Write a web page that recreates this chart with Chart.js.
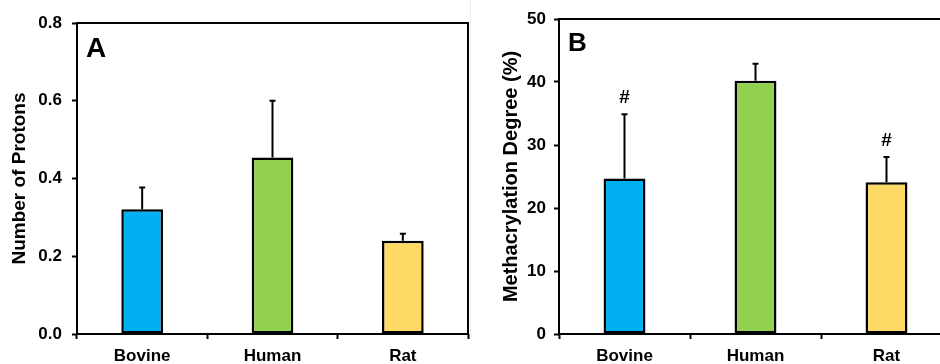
<!DOCTYPE html>
<html>
<head>
<meta charset="utf-8">
<script src="https://cdn.jsdelivr.net/npm/chart.js@4.4.1/dist/chart.umd.min.js"></script>
<style>
html, body { margin:0; padding:0; background:#fff; overflow:hidden; }
#wrap { position:relative; width:940px; height:364px; overflow:hidden; }
#boxA { position:absolute; left:0; top:0; width:470px; height:364px; }
#boxB { position:absolute; left:470px; top:0; width:486px; height:364px; }
#sep { position:absolute; left:470px; top:0; width:1px; height:338px; background:#ececec; }
</style>
</head>
<body>
<div id="wrap">
  <div id="boxA"><canvas id="chartA" width="470" height="364"></canvas></div>
  <div id="sep"></div>
  <div id="boxB"><canvas id="chartB" width="486" height="364"></canvas></div>
</div>
<script>
// categorias comunes a los dos paneles
var especies = ['Bovine', 'Human', 'Rat'];
var coloresBarras = ['#00B0F0', '#92D050', '#FFD966'];

// panel A: numero de protones (media y error superior)
var protones = [0.321, 0.454, 0.240];
var errorProtones = [0.056, 0.146, 0.018];
var ticksA = [0, 0.2, 0.4, 0.6, 0.8];
var etiquetasA = ['0.0', '0.2', '0.4', '0.6', '0.8'];

// panel B: grado de metacrilacion (%)
var metacrilacion = [24.7, 40.2, 24.1];
var errorMetacrilacion = [10.2, 2.7, 4.0];
var marcasB = ['#', '', '#'];
var ticksB = [0, 10, 20, 30, 40, 50];
var etiquetasB = ['0', '10', '20', '30', '40', '50'];

var fuente = '"Liberation Sans", Arial, Helvetica, sans-serif';
Chart.defaults.font.family = fuente;
Chart.defaults.font.weight = 'bold';
Chart.defaults.color = '#000';

// marco negro alrededor del area del grafico
var cajaPlugin = {
  id: 'caja',
  afterDraw: function(chart) {
    var a = chart.chartArea, ctx = chart.ctx;
    ctx.save();
    ctx.lineWidth = 2;
    ctx.strokeStyle = '#000';
    ctx.strokeRect(a.left, a.top, a.right - a.left, a.bottom - a.top);
    ctx.restore();
  }
};

// barras de error, marcas (#) y letra del panel
var erroresPlugin = {
  id: 'errores',
  afterDatasetsDraw: function(chart, args, opts) {
    var ctx = chart.ctx, y = chart.scales.y;
    var meta = chart.getDatasetMeta(0);
    var datos = chart.data.datasets[0].data;
    ctx.save();
    ctx.strokeStyle = '#000';
    ctx.lineWidth = 2;
    meta.data.forEach(function(bar, i) {
      var yBar = y.getPixelForValue(datos[i]);
      var yTop = y.getPixelForValue(datos[i] + opts.errores[i]);
      ctx.beginPath();
      ctx.moveTo(bar.x, yBar);
      ctx.lineTo(bar.x, yTop);
      ctx.moveTo(bar.x - 3, yTop);
      ctx.lineTo(bar.x + 3, yTop);
      ctx.stroke();
      if (opts.marcas && opts.marcas[i]) {
        ctx.fillStyle = '#000';
        ctx.font = 'bold 19px ' + fuente;
        ctx.textAlign = 'center';
        ctx.textBaseline = 'middle';
        ctx.fillText(opts.marcas[i], bar.x, yTop - 16);
      }
    });
    var a = chart.chartArea;
    ctx.fillStyle = '#000';
    ctx.font = 'bold ' + opts.tamLetra + 'px ' + fuente;
    ctx.textAlign = 'left';
    ctx.textBaseline = 'alphabetic';
    ctx.fillText(opts.letra, a.left + 9, a.top + opts.bajaLetra);
    ctx.restore();
  }
};

function crearPanel(id, valores, errores, marcas, ticks, etiquetas, min, max, tituloY, tamTitulo, padTitulo, anchoEje, padTicks, padArriba, padDerecha, letra, tamLetra, bajaLetra) {
  return new Chart(document.getElementById(id), {
    type: 'bar',
    data: {
      labels: especies,
      datasets: [{
        data: valores,
        backgroundColor: coloresBarras,
        borderColor: '#000',
        borderWidth: 2.5,
        borderSkipped: false,
        categoryPercentage: 1,
        barPercentage: 0.32
      }]
    },
    plugins: [cajaPlugin, erroresPlugin],
    options: {
      responsive: false,
      animation: false,
      layout: { padding: { top: padArriba, right: padDerecha, left: 0, bottom: 0 } },
      plugins: {
        legend: { display: false },
        tooltip: { enabled: false },
        errores: { errores: errores, marcas: marcas, letra: letra, tamLetra: tamLetra, bajaLetra: bajaLetra }
      },
      scales: {
        x: {
          offset: true,
          border: { display: false },
          grid: { offset: true, drawOnChartArea: false, tickLength: 5, tickWidth: 2, tickColor: '#000' },
          ticks: { font: { size: 17, weight: 'bold' }, padding: 7, color: '#000' },
          afterFit: function(s) { s.height = 30; s.paddingLeft = 0; s.paddingRight = 0; }
        },
        y: {
          min: min,
          max: max,
          border: { display: false },
          grid: { drawOnChartArea: false, tickLength: 5, tickWidth: 2, tickColor: '#000' },
          afterBuildTicks: function(s) { s.ticks = ticks.map(function(v) { return { value: v }; }); },
          ticks: {
            font: { size: 17, weight: 'bold' },
            padding: padTicks,
            color: '#000',
            callback: function(v, i) { return etiquetas[i]; }
          },
          title: {
            display: true,
            text: tituloY,
            color: '#000',
            font: { size: tamTitulo, weight: 'bold' },
            padding: { top: padTitulo, bottom: 0 }
          },
          afterFit: function(s) { s.width = anchoEje; s.paddingTop = 0; s.paddingBottom = 0; }
        }
      }
    }
  });
}

crearPanel('chartA', protones, errorProtones, null, ticksA, etiquetasA, 0, 0.8,
  'Number of Protons', 19, 8, 77, 10, 23, 2, 'A', 28, 34);
crearPanel('chartB', metacrilacion, errorMetacrilacion, marcasB, ticksB, etiquetasB, 0, 50,
  'Methacrylation Degree (%)', 20, 29, 89, 8, 19, 4, 'B', 26, 32);
</script>
</body>
</html>
